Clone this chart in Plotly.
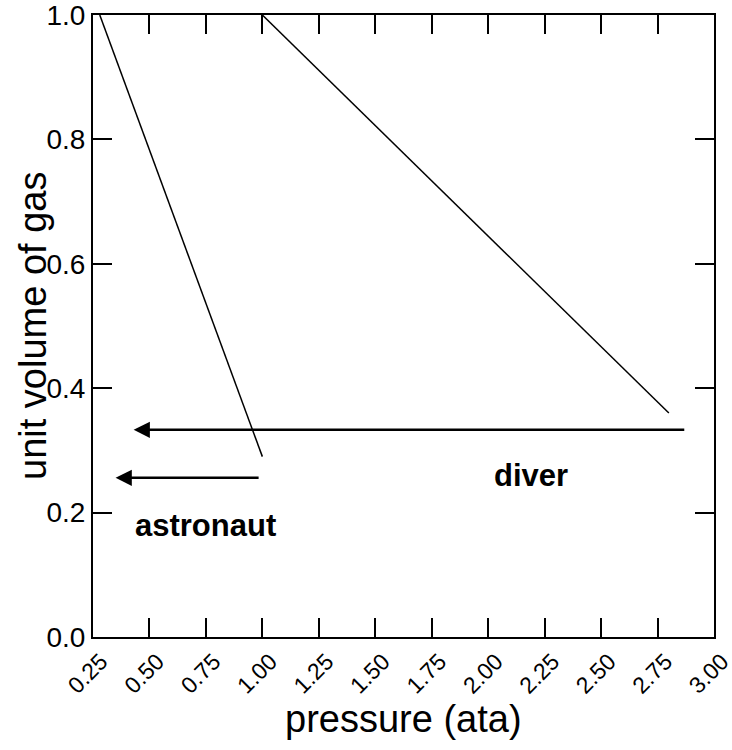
import plotly.graph_objects as go

# Data
astronaut_x = [0.28, 1.0]
astronaut_y = [1.0, 0.29]
diver_x = [1.0, 2.8]
diver_y = [1.0, 0.36]

# arrows: (tail_x, tail_y, tip_x, tip_y)
diver_arrow = (2.875, 0.333, 0.43, 0.333)
astronaut_arrow = (0.99, 0.256, 0.35, 0.256)

labels = ["diver", "astronaut"]
label_x = [2.19, 0.75]
label_y = [0.26, 0.179]

x_ticks = [0.25, 0.5, 0.75, 1.0, 1.25, 1.5, 1.75, 2.0, 2.25, 2.5, 2.75, 3.0]
x_ticktext = ["0.25", "0.50", "0.75", "1.00", "1.25", "1.50", "1.75", "2.00", "2.25", "2.50", "2.75", "3.00"]
y_ticks = [0.0, 0.2, 0.4, 0.6, 0.8, 1.0]
y_ticktext = ["0.0", "0.2", "0.4", "0.6", "0.8", "1.0"]

x_title = "pressure (ata)"
y_title = "unit volume of gas"

font_family = "Liberation Sans, Arial, sans-serif"

W, H = 732, 750
ML, MR, MT, MB = 93, 18, 15, 113
plot_w = W - ML - MR
plot_h = H - MT - MB

fig = go.Figure()
fig.add_trace(go.Scatter(x=astronaut_x, y=astronaut_y, mode="lines",
                         line=dict(color="black", width=1.5), showlegend=False, cliponaxis=False))
fig.add_trace(go.Scatter(x=diver_x, y=diver_y, mode="lines",
                         line=dict(color="black", width=1.5), showlegend=False, cliponaxis=False))

for tx, ty, hx, hy in [diver_arrow, astronaut_arrow]:
    fig.add_annotation(x=hx, y=hy, ax=tx, ay=ty, xref="x", yref="y", axref="x", ayref="y",
                       text="", showarrow=True, arrowhead=2, arrowsize=1.3, arrowwidth=2.5,
                       arrowcolor="black", standoff=0, startstandoff=0)

for t, lx, ly in zip(labels, label_x, label_y):
    fig.add_annotation(x=lx, y=ly, xref="x", yref="y", text="<b>%s</b>" % t, showarrow=False,
                       font=dict(family=font_family, size=31, color="black"))

# axis titles (pixel targets converted to paper coords)
fig.add_annotation(x=0.5, y=(H - MB - 719) / plot_h, xref="paper", yref="paper", text=x_title,
                   showarrow=False, xanchor="center", yanchor="middle",
                   font=dict(family=font_family, size=38, color="black"))
fig.add_annotation(x=(33 - ML) / plot_w, y=0.5, xref="paper", yref="paper", text=y_title,
                   showarrow=False, textangle=-90, xanchor="center", yanchor="middle",
                   font=dict(family=font_family, size=38, color="black"))

fig.update_layout(
    width=W, height=H,
    margin=dict(l=ML, r=MR, t=MT, b=MB),
    paper_bgcolor="white", plot_bgcolor="white",
    font=dict(family=font_family, color="black"),
    xaxis=dict(range=[0.25, 3.0], tickvals=x_ticks, ticktext=x_ticktext, tickangle=-45,
               ticks="inside", ticklen=19, tickwidth=2, tickcolor="black",
               showline=True, linewidth=2, linecolor="black", mirror="ticks",
               showgrid=False, zeroline=False, tickfont=dict(size=23), automargin=False,
               ticklabeloverflow="allow", ticklabelshift=8),
    yaxis=dict(range=[0, 1.0], tickvals=y_ticks, ticktext=y_ticktext,
               ticks="inside", ticklen=19, tickwidth=2, tickcolor="black",
               showline=True, linewidth=2, linecolor="black", mirror="ticks",
               showgrid=False, zeroline=False, tickfont=dict(size=28), automargin=False,
               ticklabeloverflow="allow"),
)

fig.write_html("out.html", config={"displayModeBar": False},
               post_script="document.body.style.margin='0';document.body.style.overflow='hidden';")
